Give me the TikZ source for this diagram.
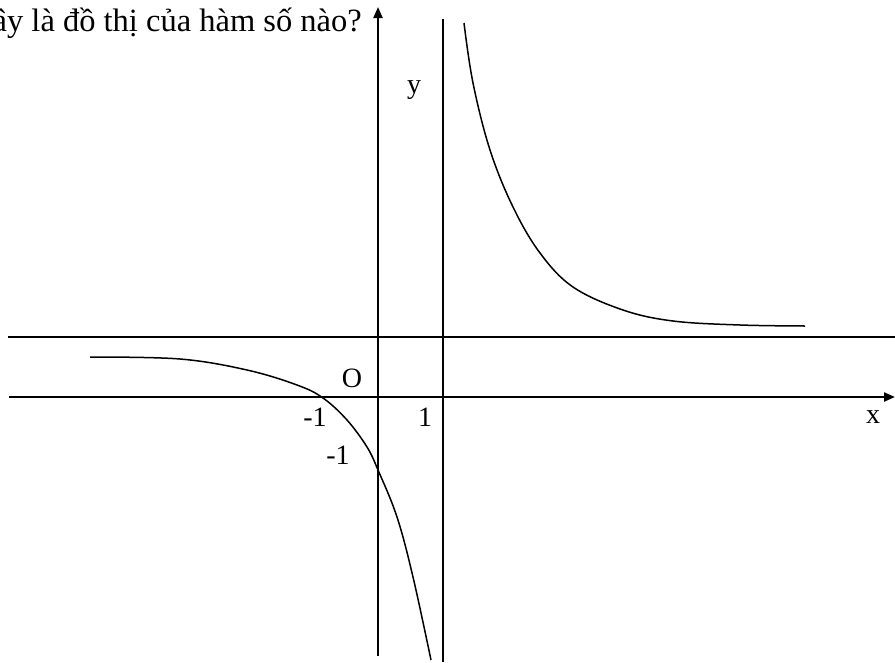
\documentclass[tikz,border=0pt]{standalone}
\usepackage{fontspec}
\setmainfont{Liberation Serif}
\usetikzlibrary{arrows.meta}
\tikzset{
  axis/.style={draw=black,line width=2.2pt,-{Triangle[length=11pt,width=9pt]}},
  asym/.style={draw=black,line width=1.6pt},
  graph/.style={draw=black,line width=1.5pt},
  lbl/.style={font=\fontsize{28}{33}\selectfont,inner sep=0pt},
  ttl/.style={font=\fontsize{32.5}{38}\selectfont,inner sep=0pt,anchor=base east},
}
\begin{document}
\begin{tikzpicture}[x=1pt,y=-1pt]
\useasboundingbox (0,0) rectangle (895,662);
% -axes and asymptotes-
\coordinate (xl) at (9,397); \coordinate (xr) at (895,397);
\coordinate (yb) at (378,656); \coordinate (yt) at (378,7);
\coordinate (hl) at (8,337); \coordinate (hr) at (895,337);
\coordinate (vb) at (443,662); \coordinate (vt) at (443,19);
\draw[asym] (hl) -- (hr);
\draw[asym] (vb) -- (vt);
\draw[axis] (xl) -- (xr);
\draw[axis] (yb) -- (yt);
% -graph-
\draw[graph] plot[smooth,tension=0.6] coordinates {(90,357) (180,359) (247,370) (297,385) (323,398) (347,420) (367,447) (378,470) (397,517) (413,577) (431,660)};
\draw[graph] plot[smooth,tension=0.6] coordinates {(464,23) (473,83) (490,150) (513,207) (540,253) (573,287) (623,310) (673,321) (740,325) (805,326)};
% -labels-
\node[ttl] (title) at (362,31) {ây là đồ thị của hàm số nào?};
\node[lbl] (ylab) at (414,90) {y};
\node[lbl] (xlab) at (873,417) {x};
\node[lbl] (orig) at (352,378) {O};
\node[lbl] (xm) at (315,417) {-1};
\node[lbl] (xp) at (425,417) {1};
\node[lbl] (ym) at (338,455) {-1};
\end{tikzpicture}
\end{document}
